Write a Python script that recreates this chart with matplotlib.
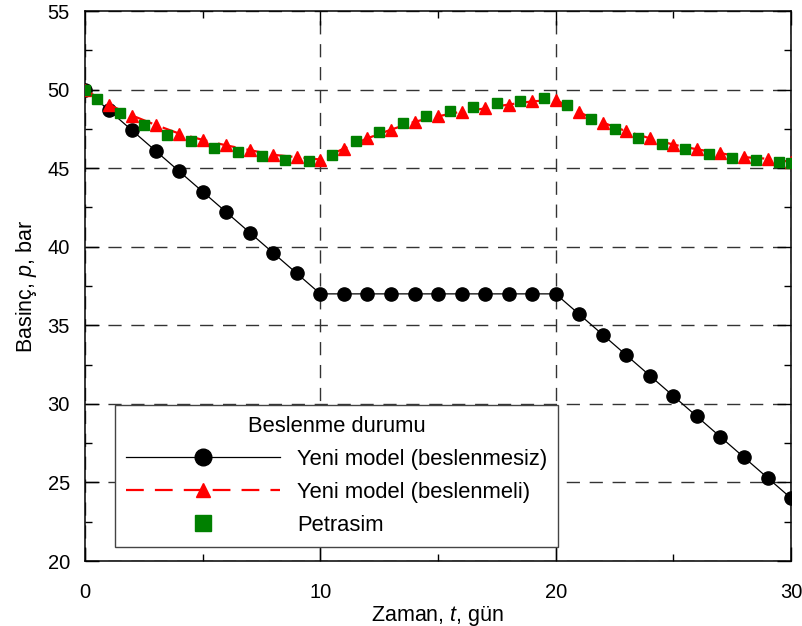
import numpy as np
import matplotlib
matplotlib.use("Agg")
import matplotlib.pyplot as plt
from matplotlib.ticker import MultipleLocator

plt.rcParams['font.family'] = ['Liberation Sans', 'DejaVu Sans']
plt.rcParams['mathtext.fontset'] = 'custom'
plt.rcParams['mathtext.rm'] = 'Liberation Sans'
plt.rcParams['mathtext.it'] = 'Liberation Sans:italic'

# gun (days)
days = list(range(0, 31))
# yeni model, beslenmesiz
p_no_feed = [50.0, 48.7, 47.4, 46.1, 44.8, 43.5, 42.2, 40.9, 39.6, 38.3,
             37.0, 37.0, 37.0, 37.0, 37.0, 37.0, 37.0, 37.0, 37.0, 37.0,
             37.0, 35.7, 34.4, 33.1, 31.8, 30.5, 29.2, 27.9, 26.6, 25.3, 24.0]
# yeni model, beslenmeli
p_feed = [50.0, 49.05, 48.35, 47.75, 47.2, 46.8, 46.45, 46.15, 45.85, 45.7,
          45.55, 46.25, 46.9, 47.45, 47.95, 48.3, 48.6, 48.8, 49.05, 49.25,
          49.35, 48.55, 47.9, 47.35, 46.9, 46.5, 46.2, 45.95, 45.7, 45.6, 45.4]

# petrasim
days_ps = [0, 0.5, 1.5, 2.5, 3.5, 4.5, 5.5, 6.5, 7.5, 8.5, 9.5, 10.5, 11.5,
           12.5, 13.5, 14.5, 15.5, 16.5, 17.5, 18.5, 19.5, 20.5, 21.5, 22.5,
           23.5, 24.5, 25.5, 26.5, 27.5, 28.5, 29.5, 30]
p_ps = [50.0, 49.4, 48.5, 47.75, 47.1, 46.7, 46.3, 46.0, 45.75, 45.55, 45.45,
        45.85, 46.7, 47.3, 47.9, 48.3, 48.65, 48.9, 49.15, 49.3, 49.45,
        49.05, 48.15, 47.5, 46.95, 46.55, 46.2, 45.9, 45.65, 45.5, 45.4, 45.3]

fig = plt.figure(figsize=(8.03, 6.26), dpi=100)
ax = fig.add_axes([0.1059, 0.1038, 0.8792, 0.8786])

ax.plot(days, p_no_feed, 'k-', lw=0.9, marker='o', ms=9.5,
        label='Yeni model (beslenmesiz)', zorder=3)
ax.plot(days, p_feed, color='red', lw=1.6, ls=(0, (8, 5)), marker='^',
        ms=9, label='Yeni model (beslenmeli)', zorder=4)
ax.plot(days_ps, p_ps, ls='none', marker='s', ms=7, color='#008000',
        label='Petrasim', zorder=5)

ax.set_xlim(0, 30)
ax.set_ylim(20, 55)
ax.xaxis.set_major_locator(MultipleLocator(10))
ax.xaxis.set_minor_locator(MultipleLocator(5))
ax.yaxis.set_major_locator(MultipleLocator(5))
ax.yaxis.set_minor_locator(MultipleLocator(2.5))
ax.tick_params(which='both', direction='in', top=True, right=True,
               labelsize=14.5, width=1)
ax.tick_params(axis='x', which='major', pad=16)
ax.tick_params(axis='y', which='major', pad=11)
ax.tick_params(which='major', length=10)
ax.tick_params(which='minor', length=5)
for s in ax.spines.values():
    s.set_linewidth(1.1)

ax.grid(True, which='major', color='#333333', lw=1, ls=(0, (9.5, 7)))

ax.set_xlabel('Zaman, $t$, gün', fontsize=15.5, labelpad=1)
ax.set_ylabel('Basinç, $p$, bar', fontsize=15.5, labelpad=6)

leg = ax.legend(title='Beslenme durumu', loc='lower left',
                bbox_to_anchor=(0.0425, 0.0255), borderaxespad=0,
                fontsize=15.8, title_fontsize=15.8, handlelength=7.0,
                handletextpad=0.8, labelspacing=0.55, borderpad=0.5,
                fancybox=False, framealpha=1, edgecolor='#444444',
                numpoints=1)
leg.get_frame().set_linewidth(1)
# legend markers are drawn a bit bigger than on the plot
leg.legend_handles[0].set_markersize(12)
leg.legend_handles[1].set_markersize(10)
leg.legend_handles[2].set_markersize(11)

fig.savefig('out.png', dpi=100)
